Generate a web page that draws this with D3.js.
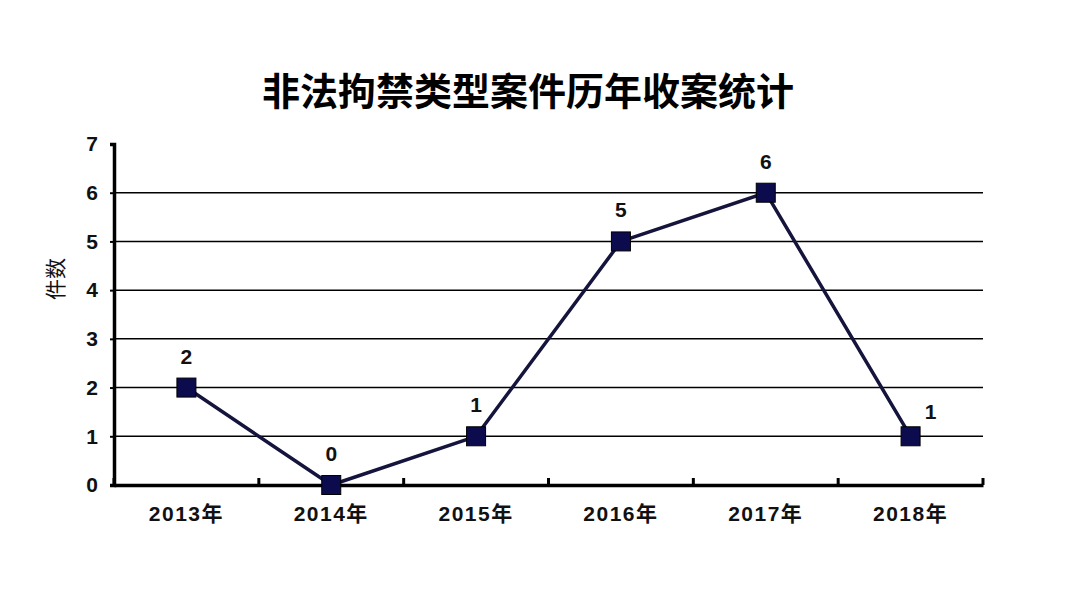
<!DOCTYPE html>
<html>
<head>
<meta charset="utf-8">
<script src="https://cdn.jsdelivr.net/npm/d3@7"></script>
<style>
  body { margin: 0; background: #fff; }
  svg { display: block; }
  text { font-family: "Liberation Sans", Arial, "Noto Sans CJK SC", sans-serif; }
</style>
</head>
<body>
<div id="chart"></div>
<script>
const title = '非法拘禁类型案件历年收案统计';
const yLabel = '件数';
const years = ['2013年', '2014年', '2015年', '2016年', '2017年', '2018年'];
const cases = [2, 0, 1, 5, 6, 1];
const yTicks = [0, 1, 2, 3, 4, 5, 6, 7];

const width = 1080;
const height = 601;
const margin = { top: 144, right: 97, bottom: 116, left: 114 };

const svg = d3.select('#chart')
  .append('svg')
  .attr('width', width)
  .attr('height', height);

const x = d3.scaleBand()
  .domain(years)
  .range([margin.left, width - margin.right]);

const y = d3.scaleLinear()
  .domain([0, 7])
  .range([height - margin.bottom, margin.top]);

// Title
svg.append('text')
  .attr('x', 528)
  .attr('y', 105)
  .attr('text-anchor', 'middle')
  .attr('font-family', '"Noto Sans CJK SC", sans-serif')
  .attr('font-weight', 'bold')
  .attr('font-size', 38)
  .attr('fill', '#000')
  .text(title);

// Horizontal grid lines
svg.append('g')
  .selectAll('line')
  .data(yTicks.filter((d) => d > 0 && d < 7))
  .enter()
  .append('line')
  .attr('x1', margin.left)
  .attr('x2', width - margin.right)
  .attr('y1', (d) => y(d))
  .attr('y2', (d) => y(d))
  .attr('stroke', '#000')
  .attr('stroke-width', 1.5);

// Y axis
const yAxis = svg.append('g')
  .attr('transform', `translate(${margin.left},0)`)
  .call(d3.axisLeft(y).tickValues(yTicks).tickFormat(d3.format('d')).tickSize(4).tickPadding(12));
yAxis.select('.domain').attr('stroke', '#000').attr('stroke-width', 3.5);
yAxis.selectAll('.tick line').attr('stroke', '#000').attr('stroke-width', 2);
yAxis.selectAll('.tick text')
  .attr('font-size', 21)
  .attr('font-weight', 'bold')
  .attr('fill', '#111');

// X axis with ticks at band boundaries
const xAxis = svg.append('g')
  .attr('transform', `translate(0,${y(0)})`)
  .call(d3.axisBottom(x).tickSize(0).tickPadding(21));
xAxis.select('.domain').attr('stroke', '#000').attr('stroke-width', 3.5);
xAxis.selectAll('.tick text')
  .attr('font-size', 21)
  .attr('font-weight', 'bold')
  .attr('letter-spacing', 1.5)
  .attr('fill', '#111')
  .attr('font-family', '"Liberation Sans", "Noto Sans CJK SC", sans-serif');

const bounds = years.map((d) => x(d)).concat([x.range()[1]]);
svg.append('g')
  .selectAll('line')
  .data(bounds)
  .enter()
  .append('line')
  .attr('x1', (d) => d)
  .attr('x2', (d) => d)
  .attr('y1', y(0))
  .attr('y2', y(0) - 7)
  .attr('stroke', '#000')
  .attr('stroke-width', 3);

// Y axis label
svg.append('text')
  .attr('transform', `translate(63,${279}) rotate(-90)`)
  .attr('text-anchor', 'middle')
  .attr('font-family', '"Noto Sans CJK SC", sans-serif')
  .attr('font-size', 21)
  .attr('fill', '#111')
  .text(yLabel);

// Line
const cx = (d, i) => x(years[i]) + x.bandwidth() / 2;
const line = d3.line()
  .x((d, i) => cx(d, i))
  .y((d) => y(d));

svg.append('path')
  .datum(cases)
  .attr('fill', 'none')
  .attr('stroke', '#14143c')
  .attr('stroke-width', 3.5)
  .attr('stroke-linejoin', 'round')
  .attr('d', line);

// Square markers
const size = 19;
svg.append('g')
  .selectAll('rect')
  .data(cases)
  .enter()
  .append('rect')
  .attr('x', (d, i) => cx(d, i) - size / 2)
  .attr('y', (d) => y(d) - size / 2)
  .attr('width', size)
  .attr('height', size)
  .attr('fill', '#0b0b4d')
  .attr('stroke', '#000')
  .attr('stroke-width', 1);

// Data labels (last one sits to the right)
const last = cases.length - 1;
svg.append('g')
  .selectAll('text')
  .data(cases)
  .enter()
  .append('text')
  .attr('x', (d, i) => cx(d, i) + (i === last ? 20 : 0))
  .attr('y', (d, i) => y(d) - (i === last ? 17 : 24))
  .attr('text-anchor', 'middle')
  .attr('font-size', 21)
  .attr('font-weight', 'bold')
  .attr('fill', '#111')
  .text((d) => d);
</script>
</body>
</html>
